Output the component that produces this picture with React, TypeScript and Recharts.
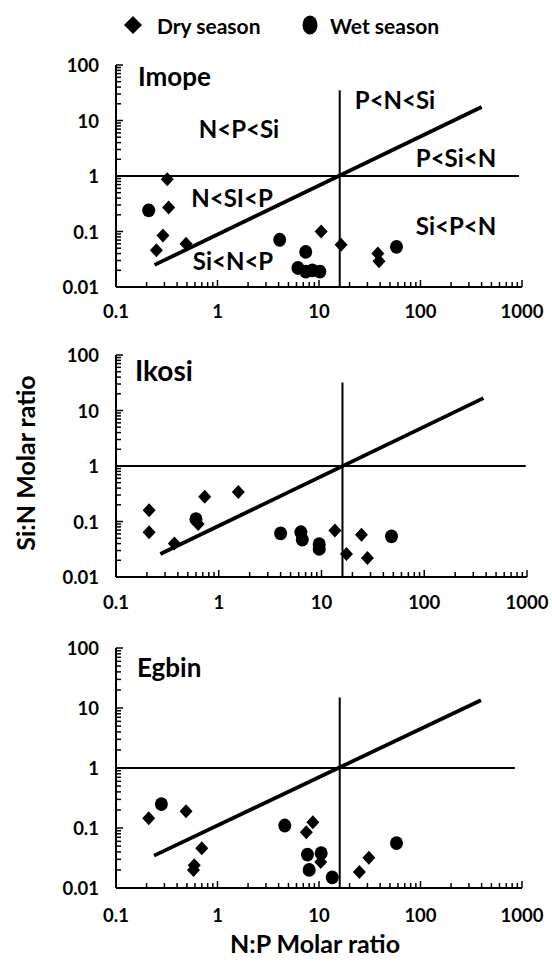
import React from 'react';
import { ScatterChart, Scatter, XAxis, YAxis } from 'recharts';

type Pt = { x: number; y: number };

const FONT = 'Lato, "Open Sans", "DejaVu Sans", sans-serif';

// ---------- tick labels ----------
const xMajorTicks = [0.1, 1, 10, 100, 1000];
const xMajorLabels = ['0.1', '1', '10', '100', '1000'];
const yMajorTicks = [0.01, 0.1, 1, 10, 100];
const yMajorLabels = ['0.01', '0.1', '1', '10', '100'];
const minorMultipliers = [2, 3, 4, 5, 6, 7, 8, 9];

// ---------- Imope ----------
const imopeDry: Pt[] = [
  { x: 0.32, y: 0.87 }, { x: 0.33, y: 0.27 }, { x: 0.29, y: 0.085 }, { x: 0.25, y: 0.046 },
  { x: 0.49, y: 0.06 }, { x: 10.5, y: 0.1 }, { x: 16.5, y: 0.058 }, { x: 38, y: 0.04 }, { x: 39, y: 0.029 },
];
const imopeWet: Pt[] = [
  { x: 0.21, y: 0.24 }, { x: 4.1, y: 0.071 }, { x: 7.4, y: 0.043 }, { x: 6.2, y: 0.022 },
  { x: 7.4, y: 0.019 }, { x: 8.6, y: 0.02 }, { x: 10.2, y: 0.019 }, { x: 58, y: 0.053 },
];
const imopeDiag: Pt[] = [{ x: 0.24, y: 0.025 }, { x: 400, y: 17.5 }];
const imopeV: Pt[] = [{ x: 16, y: 0.01 }, { x: 16, y: 35 }];
const imopeH: Pt[] = [{ x: 0.1, y: 1 }, { x: 935, y: 1 }];

// ---------- Ikosi ----------
const ikosiDry: Pt[] = [
  { x: 0.21, y: 0.16 }, { x: 0.21, y: 0.064 }, { x: 0.37, y: 0.04 }, { x: 0.63, y: 0.09 },
  { x: 0.73, y: 0.28 }, { x: 1.55, y: 0.34 }, { x: 13.5, y: 0.069 }, { x: 17.5, y: 0.026 },
  { x: 24.5, y: 0.058 }, { x: 28, y: 0.022 },
];
const ikosiWet: Pt[] = [
  { x: 0.6, y: 0.11 }, { x: 4.0, y: 0.061 }, { x: 6.3, y: 0.064 }, { x: 6.5, y: 0.047 },
  { x: 9.5, y: 0.039 }, { x: 9.5, y: 0.032 }, { x: 48, y: 0.054 },
];
const ikosiDiag: Pt[] = [{ x: 0.27, y: 0.026 }, { x: 377, y: 16.7 }];
const ikosiV: Pt[] = [{ x: 16, y: 0.01 }, { x: 16, y: 32 }];
const ikosiH: Pt[] = [{ x: 0.1, y: 1 }, { x: 970, y: 1 }];

// ---------- Egbin ----------
const egbinDry: Pt[] = [
  { x: 0.21, y: 0.145 }, { x: 0.49, y: 0.19 }, { x: 0.7, y: 0.046 }, { x: 0.59, y: 0.024 },
  { x: 0.58, y: 0.02 }, { x: 8.7, y: 0.125 }, { x: 7.5, y: 0.085 }, { x: 10.4, y: 0.027 },
  { x: 25, y: 0.0185 }, { x: 31, y: 0.032 },
];
const egbinWet: Pt[] = [
  { x: 0.28, y: 0.25 }, { x: 4.6, y: 0.11 }, { x: 7.7, y: 0.036 }, { x: 10.5, y: 0.038 },
  { x: 8, y: 0.02 }, { x: 13.5, y: 0.015 }, { x: 58, y: 0.056 },
];
const egbinDiag: Pt[] = [{ x: 0.237, y: 0.0346 }, { x: 394, y: 13.5 }];
const egbinV: Pt[] = [{ x: 16, y: 0.01 }, { x: 16, y: 15 }];
const egbinH: Pt[] = [{ x: 0.1, y: 1 }, { x: 850, y: 1 }];

// ---------- region labels (Imope) ----------
const regionLabels = ['N<P<Si', 'N<SI<P', 'Si<N<P', 'P<N<Si', 'P<Si<N', 'Si<P<N'];

const withMinors = (majors: number[]) => {
  const out: number[] = [];
  majors.forEach((m, i) => {
    out.push(m);
    if (i < majors.length - 1) minorMultipliers.forEach((k) => out.push(+(m * k).toPrecision(6)));
  });
  return out;
};
const xTicks = withMinors(xMajorTicks);
const yTicks = withMinors(yMajorTicks);

const isMajor = (v: number) => Math.abs(Math.log10(v) - Math.round(Math.log10(v))) < 1e-6;

const PLOT_LEFT = 116;
const X_AXIS_H = 30;
const TICK_FS = 18.5;

const Diamond = (props: any) => {
  const { cx, cy } = props;
  if (cx == null || cy == null) return <g />;
  return <path d={`M${cx},${cy - 7}L${cx + 6.5},${cy}L${cx},${cy + 7}L${cx - 6.5},${cy}Z`} fill="#000" />;
};
const Dot = (props: any) => {
  const { cx, cy } = props;
  if (cx == null || cy == null) return <g />;
  return <ellipse cx={cx} cy={cy} rx={6.5} ry={6.9} fill="#000" />;
};
const NoShape = () => <g />;

type PanelProps = {
  divTop: number;
  divH: number;
  plotTop: number;
  plotBottom: number;
  plotRight: number;
  labelDy: number;
  dry: Pt[];
  wet: Pt[];
  diag: Pt[];
  v: Pt[];
  h: Pt[];
};

const Panel = (p: PanelProps) => {
  const marginTop = p.plotTop - p.divTop;
  const axisY = p.plotBottom - p.divTop;
  const marginBottom = p.divH - axisY - X_AXIS_H;
  const XTick = (props: any) => {
    const { x, payload } = props;
    const v = payload.value;
    const major = isMajor(v);
    const idx = xMajorTicks.findIndex((m) => Math.abs(m - v) < 1e-9);
    return (
      <g>
        <line x1={x} x2={x} y1={axisY} y2={axisY - (major ? 7 : 5)} stroke="#000" strokeWidth={1.5} />
        {major && idx >= 0 ? (
          <text x={x} y={axisY + p.labelDy} textAnchor="middle" dominantBaseline="central"
            fontFamily={FONT} fontWeight={700} fontSize={TICK_FS} fill="#000">
            {xMajorLabels[idx]}
          </text>
        ) : null}
      </g>
    );
  };
  const YTick = (props: any) => {
    const { y, payload } = props;
    const v = payload.value;
    const major = isMajor(v);
    const idx = yMajorTicks.findIndex((m) => Math.abs(m - v) < 1e-12);
    return (
      <g>
        <line x1={PLOT_LEFT} x2={PLOT_LEFT + (major ? 7 : 5)} y1={y} y2={y} stroke="#000" strokeWidth={1.5} />
        {major && idx >= 0 ? (
          <text x={PLOT_LEFT - 17} y={y} textAnchor="end" dominantBaseline="central"
            fontFamily={FONT} fontWeight={700} fontSize={TICK_FS} fill="#000">
            {yMajorLabels[idx]}
          </text>
        ) : null}
      </g>
    );
  };
  return (
    <div style={{ position: 'absolute', left: 0, top: p.divTop, width: 552, height: p.divH }}>
      <ScatterChart
        width={552}
        height={p.divH}
        margin={{ top: marginTop, right: 552 - p.plotRight, bottom: marginBottom, left: PLOT_LEFT - 60 }}
      >
        <XAxis
          type="number"
          dataKey="x"
          scale="log"
          domain={[0.1, 1000]}
          allowDataOverflow
          ticks={xTicks}
          interval={0}
          tick={XTick}
          tickLine={false}
          axisLine={{ stroke: '#000', strokeWidth: 2 }}
          height={X_AXIS_H}
        />
        <YAxis
          type="number"
          dataKey="y"
          scale="log"
          domain={[0.01, 100]}
          allowDataOverflow
          ticks={yTicks}
          interval={0}
          tick={YTick}
          tickLine={false}
          axisLine={{ stroke: '#000', strokeWidth: 2 }}
          width={60}
        />
        <Scatter data={p.h} line={{ stroke: '#000', strokeWidth: 2 }} shape={NoShape} isAnimationActive={false} />
        <Scatter data={p.v} line={{ stroke: '#000', strokeWidth: 2 }} shape={NoShape} isAnimationActive={false} />
        <Scatter data={p.diag} line={{ stroke: '#000', strokeWidth: 3.8 }} shape={NoShape} isAnimationActive={false} />
        <Scatter data={p.dry} shape={Diamond} isAnimationActive={false} />
        <Scatter data={p.wet} shape={Dot} isAnimationActive={false} />
      </ScatterChart>
    </div>
  );
};

const boldText = { fontFamily: FONT, fontWeight: 700, fill: '#000' } as const;

export default function App() {
  return (
    <div style={{ position: 'absolute', left: 0, top: 0, width: 552, height: 965, background: '#fff', overflow: 'hidden' }}>
      <Panel divTop={50} divH={280} plotTop={65} plotBottom={287} plotRight={522} labelDy={24}
        dry={imopeDry} wet={imopeWet} diag={imopeDiag} v={imopeV} h={imopeH} />
      <Panel divTop={340} divH={280} plotTop={355} plotBottom={577} plotRight={527} labelDy={25}
        dry={ikosiDry} wet={ikosiWet} diag={ikosiDiag} v={ikosiV} h={ikosiH} />
      <Panel divTop={633} divH={298} plotTop={648} plotBottom={888} plotRight={522} labelDy={27}
        dry={egbinDry} wet={egbinWet} diag={egbinDiag} v={egbinV} h={egbinH} />
      <svg width={552} height={965} style={{ position: 'absolute', left: 0, top: 0, pointerEvents: 'none' }}>
        {/* legend */}
        <path d="M133,16L142,25L133,34L124,25Z" fill="#000" />
        <text x={157} y={25} dominantBaseline="central" fontSize={21} {...boldText}>Dry season</text>
        <ellipse cx={310} cy={25} rx={7.5} ry={9.5} fill="#000" />
        <text x={330} y={25} dominantBaseline="central" fontSize={21} {...boldText}>Wet season</text>
        {/* panel titles */}
        <text x={138} y={76} dominantBaseline="central" fontSize={26} {...boldText}>Imope</text>
        <text x={135} y={370} dominantBaseline="central" fontSize={28} {...boldText}>Ikosi</text>
        <text x={137} y={667} dominantBaseline="central" fontSize={26} {...boldText}>Egbin</text>
        {/* region labels */}
        <text x={239} y={128} textAnchor="middle" dominantBaseline="central" fontSize={24} {...boldText}>{regionLabels[0]}</text>
        <text x={232} y={197} textAnchor="middle" dominantBaseline="central" fontSize={24} {...boldText}>{regionLabels[1]}</text>
        <text x={233} y={260} textAnchor="middle" dominantBaseline="central" fontSize={24} {...boldText}>{regionLabels[2]}</text>
        <text x={395} y={99} textAnchor="middle" dominantBaseline="central" fontSize={24} {...boldText}>{regionLabels[3]}</text>
        <text x={456} y={157} textAnchor="middle" dominantBaseline="central" fontSize={24} {...boldText}>{regionLabels[4]}</text>
        <text x={456} y={225} textAnchor="middle" dominantBaseline="central" fontSize={24} {...boldText}>{regionLabels[5]}</text>
        {/* axis titles */}
        <text x={25} y={463} textAnchor="middle" dominantBaseline="central" fontSize={25} transform="rotate(-90 25 463)" {...boldText}>Si:N Molar ratio</text>
        <text x={315} y={943} textAnchor="middle" dominantBaseline="central" fontSize={25} {...boldText}>N:P Molar ratio</text>
      </svg>
    </div>
  );
}
